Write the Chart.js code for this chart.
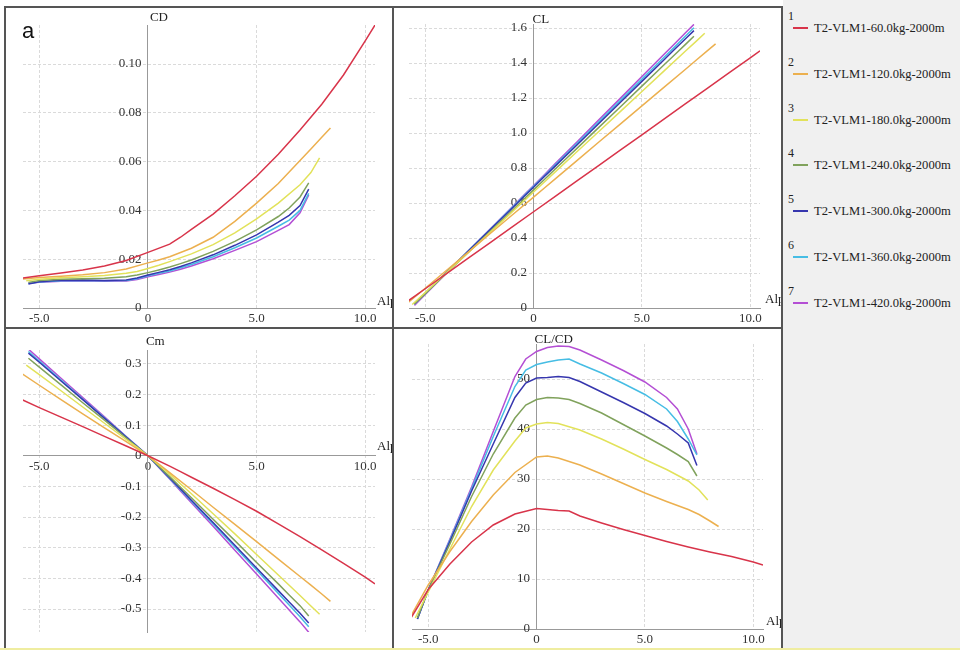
<!DOCTYPE html>
<html>
<head>
<meta charset="utf-8">
<script src="https://cdn.jsdelivr.net/npm/chart.js@4.4.1/dist/chart.umd.min.js"></script>
<style>
  body { margin: 0; width: 960px; height: 652px; position: relative; background: #fff; overflow: hidden; }
  canvas { position: absolute; }
  .rule { position: absolute; background: #555; }
  #legend { position: absolute; left: 783px; top: 0; width: 177px; height: 648px; background: #f0f0f0; font-family: 'Liberation Serif', serif; color: #222; }
  #legend .num { position: absolute; left: 5px; font-size: 12px; line-height: 12px; }
  #legend .swatch { position: absolute; left: 10px; width: 15px; height: 2px; }
  #legend .name { position: absolute; left: 31px; font-size: 12.6px; line-height: 14px; white-space: nowrap; }
  #tag { position: absolute; left: 22px; top: 20px; font-family: 'Liberation Sans', sans-serif; font-size: 22px; line-height: 22px; color: #111; }
  #bottom { position: absolute; left: 0; top: 648px; width: 960px; height: 2px; background: #efeda0; }
</style>
</head>
<body>
<canvas id="cdChart" width="392" height="327" style="left:0;top:0;width:392px;height:327px"></canvas>
<canvas id="clChart" width="388" height="327" style="left:394px;top:0;width:388px;height:327px"></canvas>
<canvas id="cmChart" width="392" height="320" style="left:0;top:329px;width:392px;height:320px"></canvas>
<canvas id="clcdChart" width="388" height="320" style="left:394px;top:329px;width:388px;height:320px"></canvas>

<div class="rule" style="left:4px;top:6px;width:779px;height:2px"></div>
<div class="rule" style="left:4px;top:6px;width:2px;height:643px"></div>
<div class="rule" style="left:392px;top:6px;width:2px;height:643px"></div>
<div class="rule" style="left:781px;top:6px;width:2px;height:643px"></div>
<div class="rule" style="left:4px;top:327px;width:779px;height:2px"></div>
<div id="legend"></div>
<div id="bottom"></div>
<div id="tag">a</div>

<script>
// == 데이터 == //
const ALPHA_60 = [-5.8, -5, -4, -3, -2, -1, 0, 1, 1.5, 2, 3, 4, 5, 6, 7, 8, 9, 10, 10.45];
const ALPHA_120 = [-5.8, -5, -4, -3, -2, -1, 0, 0.5, 1, 2, 3, 4, 5, 6, 7, 7.5, 8, 8.4];
const ALPHA_180 = [-5.6, -5, -4, -3, -2, -1, -0.5, 0, 0.5, 1, 2, 3, 4, 5, 6, 7, 7.5, 7.9];
const ALPHA_HEAVY = [-5.5, -5, -4, -3, -2, -1, -0.5, 0, 0.5, 1, 1.5, 2, 3, 4, 5, 6, 6.5, 7, 7.4];

const CD_60 = [0.0122, 0.0132, 0.0143, 0.0156, 0.0172, 0.0195, 0.0228, 0.0262, 0.0290, 0.0322, 0.0385, 0.0460, 0.0540, 0.0630, 0.0730, 0.0835, 0.0955, 0.1095, 0.1160];
const CD_120 = [0.0118, 0.0125, 0.0130, 0.0136, 0.0145, 0.0160, 0.0185, 0.0197, 0.0210, 0.0245, 0.0290, 0.0355, 0.0430, 0.0510, 0.0605, 0.0652, 0.0700, 0.0738];
const CD_180 = [0.0112, 0.0118, 0.0124, 0.0128, 0.0133, 0.0142, 0.0150, 0.0162, 0.0175, 0.0190, 0.0222, 0.0260, 0.0308, 0.0365, 0.0430, 0.0505, 0.0555, 0.0615];
const CD_240 = [0.0105, 0.0113, 0.0118, 0.0120, 0.0122, 0.0128, 0.0135, 0.0145, 0.0156, 0.0168, 0.0182, 0.0197, 0.0232, 0.0273, 0.0320, 0.0375, 0.0410, 0.0455, 0.0513];
const CD_300 = [0.0098, 0.0108, 0.0114, 0.0115, 0.0113, 0.0115, 0.0123, 0.0135, 0.0146, 0.0157, 0.0170, 0.0185, 0.0218, 0.0257, 0.0300, 0.0352, 0.0380, 0.0420, 0.0487];
const CD_360 = [0.0100, 0.0107, 0.0112, 0.0113, 0.0112, 0.0113, 0.0120, 0.0132, 0.0142, 0.0152, 0.0165, 0.0178, 0.0210, 0.0247, 0.0287, 0.0335, 0.0360, 0.0400, 0.0470];
const CD_420 = [0.0102, 0.0106, 0.0110, 0.0111, 0.0110, 0.0111, 0.0117, 0.0128, 0.0137, 0.0147, 0.0159, 0.0172, 0.0202, 0.0236, 0.0272, 0.0318, 0.0342, 0.0390, 0.0463];

const CL_60 = [0.040, 0.110, 0.198, 0.286, 0.374, 0.462, 0.550, 0.638, 0.682, 0.726, 0.814, 0.902, 0.990, 1.078, 1.166, 1.254, 1.342, 1.430, 1.470];
const CL_120 = [0.030, 0.113, 0.217, 0.321, 0.426, 0.530, 0.634, 0.686, 0.738, 0.842, 0.947, 1.051, 1.155, 1.259, 1.363, 1.416, 1.468, 1.509];
const CL_180 = [0.020, 0.089, 0.204, 0.319, 0.433, 0.548, 0.606, 0.663, 0.720, 0.778, 0.893, 1.007, 1.122, 1.237, 1.352, 1.467, 1.524, 1.570];
const CL_240 = [0.023, 0.082, 0.201, 0.319, 0.438, 0.556, 0.616, 0.675, 0.734, 0.794, 0.853, 0.912, 1.031, 1.149, 1.268, 1.387, 1.446, 1.505, 1.553];
const CL_300 = [0.025, 0.085, 0.206, 0.327, 0.448, 0.569, 0.630, 0.690, 0.751, 0.811, 0.872, 0.932, 1.053, 1.174, 1.295, 1.416, 1.477, 1.537, 1.585];
const CL_360 = [0.021, 0.083, 0.205, 0.328, 0.450, 0.573, 0.634, 0.695, 0.756, 0.818, 0.879, 0.940, 1.063, 1.185, 1.308, 1.430, 1.491, 1.553, 1.602];
const CL_420 = [0.015, 0.078, 0.202, 0.327, 0.451, 0.576, 0.638, 0.700, 0.762, 0.825, 0.887, 0.949, 1.074, 1.198, 1.323, 1.447, 1.509, 1.572, 1.621];

const CM_60 = [0.183, 0.157, 0.126, 0.095, 0.063, 0.032, 0.0, -0.034, -0.052, -0.070, -0.106, -0.143, -0.181, -0.222, -0.264, -0.307, -0.351, -0.396, -0.418];
const CM_120 = [0.268, 0.230, 0.183, 0.137, 0.091, 0.046, 0.0, -0.027, -0.055, -0.111, -0.168, -0.224, -0.280, -0.337, -0.394, -0.422, -0.451, -0.475];
const CM_180 = [0.296, 0.265, 0.212, 0.159, 0.106, 0.053, 0.027, 0.0, -0.030, -0.060, -0.124, -0.189, -0.255, -0.322, -0.389, -0.456, -0.490, -0.517];
const CM_240 = [0.318, 0.289, 0.231, 0.173, 0.116, 0.058, 0.029, 0.0, -0.034, -0.068, -0.103, -0.137, -0.207, -0.277, -0.348, -0.418, -0.454, -0.489, -0.523];
const CM_300 = [0.335, 0.305, 0.244, 0.183, 0.122, 0.061, 0.030, 0.0, -0.036, -0.072, -0.108, -0.145, -0.218, -0.292, -0.366, -0.440, -0.477, -0.514, -0.546];
const CM_360 = [0.340, 0.309, 0.247, 0.185, 0.124, 0.062, 0.031, 0.0, -0.037, -0.074, -0.111, -0.148, -0.223, -0.298, -0.373, -0.449, -0.487, -0.525, -0.558];
const CM_420 = [0.348, 0.316, 0.253, 0.190, 0.127, 0.063, 0.032, 0.0, -0.038, -0.076, -0.115, -0.153, -0.230, -0.308, -0.386, -0.464, -0.503, -0.542, -0.576];

const CLCD_60 = [2.2, 7.9, 13.0, 17.4, 20.8, 23.0, 24.1, 23.7, 23.6, 22.6, 21.2, 19.9, 18.7, 17.5, 16.4, 15.4, 14.5, 13.4, 12.8];
const CLCD_120 = [2.6, 8.8, 15.5, 21.5, 26.8, 31.3, 34.4, 34.6, 34.2, 32.8, 31.0, 29.1, 27.2, 25.5, 23.9, 22.9, 21.6, 20.5];
const CLCD_180 = [2.2, 7.4, 16.0, 24.5, 31.8, 37.6, 40.2, 41.0, 41.3, 41.1, 39.8, 38.0, 36.0, 33.9, 31.9, 29.6, 27.8, 25.8];
const CLCD_240 = [2.2, 7.8, 17.0, 26.5, 35.0, 42.2, 44.8, 45.9, 46.3, 46.2, 45.9, 45.1, 43.2, 40.9, 38.6, 36.2, 34.9, 33.5, 30.6];
const CLCD_300 = [2.0, 7.8, 17.5, 27.6, 37.0, 46.3, 49.2, 50.2, 50.3, 50.5, 50.3, 49.5, 47.4, 45.3, 43.1, 40.6, 39.0, 37.2, 32.7];
const CLCD_360 = [2.0, 7.8, 17.8, 28.0, 38.5, 48.5, 51.8, 52.9, 53.4, 53.8, 54.0, 53.0, 51.2, 49.1, 46.9, 44.0, 41.5, 38.0, 34.8];
const CLCD_420 = [2.0, 7.8, 18.0, 28.4, 39.5, 50.5, 54.0, 55.5, 56.3, 56.6, 56.5, 55.8, 53.8, 51.7, 49.4, 46.3, 44.0, 40.0, 35.0];

const SERIES_NAMES = ['T2-VLM1-60.0kg-2000m', 'T2-VLM1-120.0kg-2000m', 'T2-VLM1-180.0kg-2000m', 'T2-VLM1-240.0kg-2000m',
  'T2-VLM1-300.0kg-2000m', 'T2-VLM1-360.0kg-2000m', 'T2-VLM1-420.0kg-2000m'];

const X_TICKS = [-5, 0, 5, 10];
const CD_TICKS = [0, 0.02, 0.04, 0.06, 0.08, 0.10];
const CL_TICKS = [0, 0.2, 0.4, 0.6, 0.8, 1.0, 1.2, 1.4, 1.6];
const CM_TICKS = [-0.5, -0.4, -0.3, -0.2, -0.1, 0, 0.1, 0.2, 0.3];
const CLCD_TICKS = [0, 10, 20, 30, 40, 50];

const ALPHAS = [ALPHA_60, ALPHA_120, ALPHA_180, ALPHA_HEAVY, ALPHA_HEAVY, ALPHA_HEAVY, ALPHA_HEAVY];

Chart.defaults.font.family = "'Liberation Serif', serif";
Chart.defaults.font.size = 13;
Chart.defaults.color = '#333';

// == 축 이름 == //
const AXIS_NAMES = {
  id: 'axisNames',
  afterDraw(chart, args, opts) {
    const { ctx, chartArea, scales: { x, y } } = chart;
    ctx.save();
    ctx.font = "13px 'Liberation Serif', serif";
    ctx.fillStyle = '#222';
    ctx.textBaseline = 'middle';
    ctx.textAlign = 'left';
    ctx.fillText(opts.yName, x.getPixelForValue(0) + opts.yDx, chartArea.top + opts.yDy);
    ctx.fillText('Alpha', chartArea.right + opts.xDx, y.getPixelForValue(0) + opts.xDy);
    ctx.restore();
  }
};

function toPoints(alpha, values) {
  return values.map((v, i) => ({ x: alpha[i], y: v }));
}

function makeDatasets(valueSets) {
  return valueSets.map((values, i) => ({
    label: SERIES_NAMES[i],
    data: toPoints(ALPHAS[i], values),
    borderColor: seriesColors()[i],
    backgroundColor: seriesColors()[i],
    borderWidth: 1.5,
    pointRadius: 0,
    showLine: true,
    tension: 0
  }));
}

function makePanel(id, cfg) {
  new Chart(document.getElementById(id), {
    type: 'scatter',
    data: { datasets: makeDatasets(cfg.values) },
    options: {
      responsive: false,
      animation: false,
      events: [],
      layout: { padding: cfg.padding },
      plugins: {
        legend: { display: false },
        tooltip: { enabled: false },
        axisNames: cfg.names
      },
      scales: {
        x: {
          type: 'linear',
          min: -5.75,
          max: 10.45,
          position: { y: 0 },
          afterBuildTicks: (s) => { s.ticks = X_TICKS.map((v) => ({ value: v })); },
          ticks: { callback: (v) => (v === 0 ? '0' : v.toFixed(1)), padding: 3, autoSkip: false, maxRotation: 0 },
          grid: { color: '#dadada', drawTicks: false },
          border: { color: '#999', dash: [3, 2] }
        },
        y: {
          type: 'linear',
          min: cfg.yMin,
          max: cfg.yMax,
          position: { x: 0 },
          afterBuildTicks: (s) => { s.ticks = cfg.ticks.map((v) => ({ value: v })); },
          ticks: { callback: (v) => (v === 0 ? '0' : v.toFixed(cfg.decimals)) + '  ', padding: 3, autoSkip: false },
          grid: { color: '#dadada', drawTicks: false },
          border: { color: '#999', dash: [3, 2] }
        }
      }
    },
    plugins: [AXIS_NAMES]
  });
}

makePanel('cdChart', {
  values: [CD_60, CD_120, CD_180, CD_240, CD_300, CD_360, CD_420],
  yMin: 0, yMax: 0.116, ticks: CD_TICKS, decimals: 2,
  padding: { left: 23, top: 25, right: 17, bottom: 19 },
  names: { yName: 'CD', yDx: 2, yDy: -7, xDx: 2, xDy: -6 }
});

makePanel('clChart', {
  values: [CL_60, CL_120, CL_180, CL_240, CL_300, CL_360, CL_420],
  yMin: 0, yMax: 1.623, ticks: CL_TICKS, decimals: 1,
  padding: { left: 15, top: 24, right: 22, bottom: 19 },
  names: { yName: 'CL', yDx: -1, yDy: -4, xDx: 5, xDy: -8 }
});

makePanel('cmChart', {
  values: [CM_60, CM_120, CM_180, CM_240, CM_300, CM_360, CM_420],
  yMin: -0.575, yMax: 0.345, ticks: CM_TICKS, decimals: 1,
  padding: { left: 23, top: 21, right: 17, bottom: 17 },
  names: { yName: 'Cm', yDx: -2, yDy: -8, xDx: 2, xDy: -9 }
});

makePanel('clcdChart', {
  values: [CLCD_60, CLCD_120, CLCD_180, CLCD_240, CLCD_300, CLCD_360, CLCD_420],
  yMin: 0, yMax: 57, ticks: CLCD_TICKS, decimals: 0,
  padding: { left: 18, top: 15, right: 19, bottom: 20 },
  names: { yName: 'CL/CD', yDx: -2, yDy: -4, xDx: 3, xDy: -7 }
});

// == 범례 == //
const LEGEND = document.getElementById('legend');
SERIES_NAMES.forEach((name, i) => {
  const top = 28 + i * 45.8;
  LEGEND.insertAdjacentHTML('beforeend',
    '<div class="num" style="top:' + (top - 18) + 'px">' + (i + 1) + '</div>' +
    '<div class="swatch" style="top:' + (top - 1) + 'px;background:' + seriesColors()[i] + '"></div>' +
    '<div class="name" style="top:' + (top - 7) + 'px">' + name + '</div>');
});

// == 색상 배열 == //
function seriesColors() {
  return ['#d8344a', '#ecb04f', '#e2e25a', '#80a25c', '#3636ae', '#46bde4', '#b44fd4'];
}
</script>
</body>
</html>
